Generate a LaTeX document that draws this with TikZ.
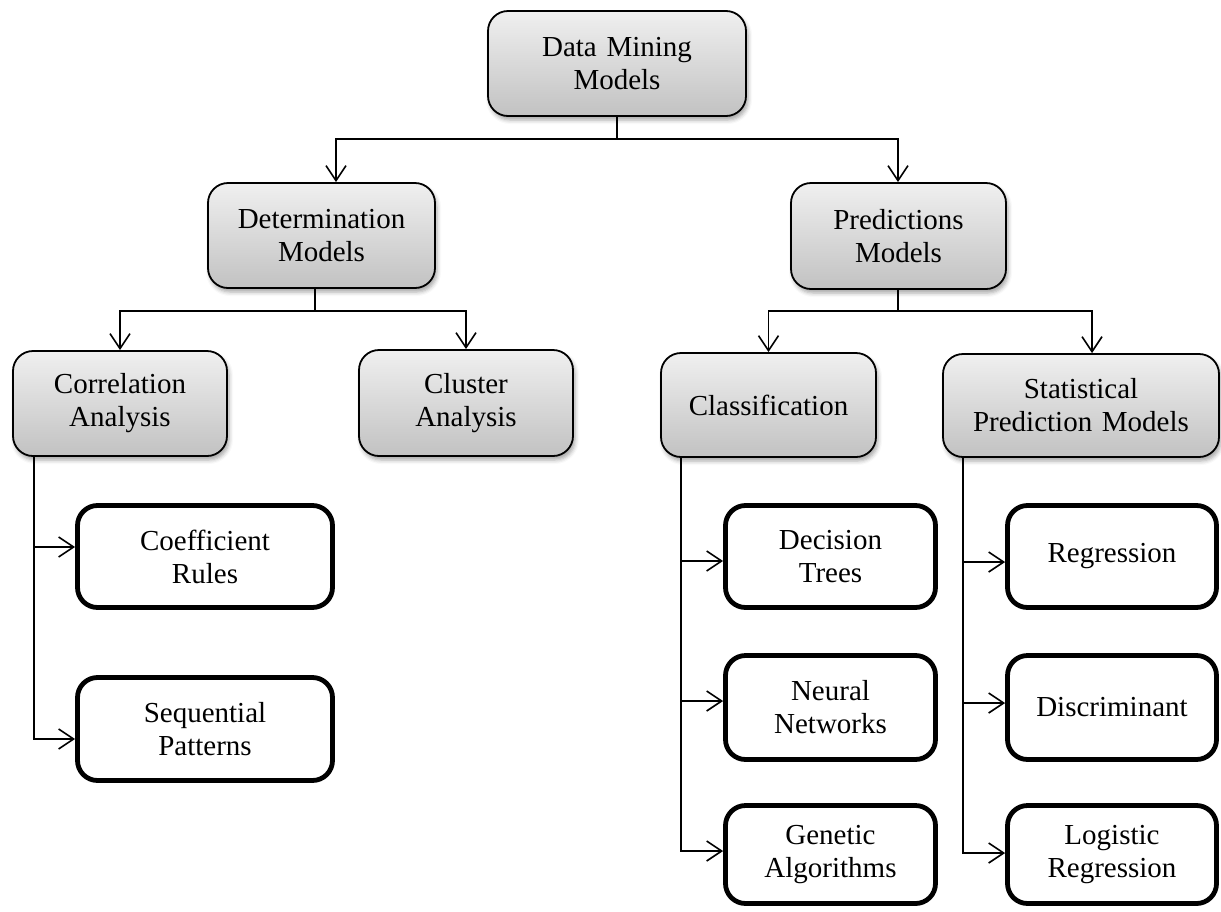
\documentclass[tikz,border=0pt]{standalone}
\usepackage{fontspec}
\setmainfont{Liberation Serif}
\usetikzlibrary{arrows.meta,shadows.blur}

\tikzset{
  graybox/.style={draw=black, line width=1.8pt, rounded corners=20pt,
    top color=black!6, bottom color=black!24, align=center,
    inner sep=0pt, text width=#1,
    blur shadow={shadow xshift=2pt, shadow yshift=-4pt, shadow blur radius=4pt, shadow opacity=35}},
  leafbox/.style={draw=black, line width=4.8pt, rounded corners=20pt,
    fill=white, align=center, inner sep=0pt},
  arr/.style={line width=1.6pt, -{Straight Barb[length=15pt,width=20pt,line width=1.6pt]}},
  link/.style={line width=1.6pt}
}

\begin{document}
\begin{tikzpicture}[x=1pt, y=-1pt, font=\fontsize{29}{33}\selectfont]
\useasboundingbox (0,0) rectangle (1221,911);

% upper levels: shaded boxes
\node[graybox=250pt, minimum width=258pt, minimum height=105pt] (top)  at (617,63.5)  {Data Mining\\Models};
\node[graybox=220pt, minimum width=227pt, minimum height=105pt] (det)  at (321.5,235.5) {Determination\\Models};
\node[graybox=210pt, minimum width=215pt, minimum height=106pt] (pred) at (898.5,236) {Predictions\\Models};
\node[graybox=210pt, minimum width=214pt, minimum height=105pt] (corr) at (120,403.5) {Correlation\\Analysis};
\node[graybox=210pt, minimum width=214pt, minimum height=106pt] (clus) at (466,403)   {Cluster\\Analysis};
\node[graybox=210pt, minimum width=215pt, minimum height=104pt] (cls)  at (768.5,405) {Classification};
\node[graybox=270pt, minimum width=276pt, minimum height=103pt] (stat) at (1081,405.5) {Statistical\\Prediction Models};

% leaf methods: white boxes
\node[leafbox, minimum width=255pt, minimum height=102pt] (coef) at (205,556.5)   {Coefficient\\Rules};
\node[leafbox, minimum width=255pt, minimum height=103pt] (seq)  at (205,729)     {Sequential\\Patterns};
\node[leafbox, minimum width=210pt, minimum height=102pt] (dt)   at (830.5,556.5) {Decision\\Trees};
\node[leafbox, minimum width=210pt, minimum height=104pt] (nn)   at (830.5,707.5) {Neural\\Networks};
\node[leafbox, minimum width=210pt, minimum height=98pt]  (ga)   at (830.5,854.5) {Genetic\\Algorithms};
\node[leafbox, minimum width=209pt, minimum height=102pt] (reg)  at (1112,556.5)  {Regression};
\node[leafbox, minimum width=209pt, minimum height=104pt] (dis)  at (1112,707.5)  {Discriminant};
\node[leafbox, minimum width=209pt, minimum height=98pt]  (lr)   at (1112,854.5)  {Logistic\\Regression};

% tree connectors
\draw[arr] (top.south) -- ++(0,22) -| ([xshift=14.5pt]det.north);
\draw[arr] (top.south) -- ++(0,22) -| ([xshift=-0.5pt]pred.north);

\draw[arr] ([xshift=-6.5pt]det.south) -- ++(0,22) -| (corr.north);
\draw[arr] ([xshift=-6.5pt]det.south) -- ++(0,22) -| (clus.north);

\draw[arr] ([xshift=-0.5pt]pred.south) -- ++(0,21) -| (cls.north);
\draw[arr] ([xshift=-0.5pt]pred.south) -- ++(0,21) -| ([xshift=11pt]stat.north);

% side branches to the leaves
\draw[arr] ([xshift=-86pt]corr.south) |- ([yshift=9.5pt]coef.west);
\draw[arr] ([xshift=-86pt]corr.south) |- ([yshift=-10pt]seq.west);

\draw[arr] ([xshift=-87.5pt]cls.south) |- ([yshift=-4.5pt]dt.west);
\draw[arr] ([xshift=-87.5pt]cls.south) |- ([yshift=6.5pt]nn.west);
\draw[arr] ([xshift=-87.5pt]cls.south) |- ([yshift=3.5pt]ga.west);

\draw[arr] ([xshift=-118pt]stat.south) |- ([yshift=-5.5pt]reg.west);
\draw[arr] ([xshift=-118pt]stat.south) |- ([yshift=4.5pt]dis.west);
\draw[arr] ([xshift=-118pt]stat.south) |- ([yshift=1.5pt]lr.west);
\end{tikzpicture}
\end{document}
